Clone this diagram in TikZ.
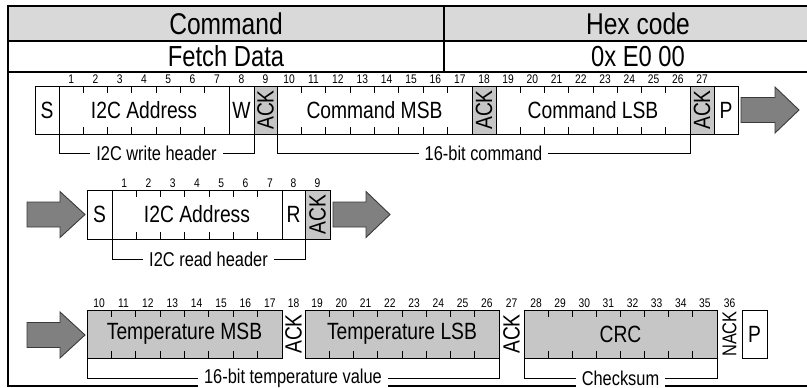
\documentclass[tikz,border=0pt]{standalone}
\usepackage{fontspec}
\setmainfont{Liberation Sans}[FakeStretch=0.82]
\definecolor{hdrgray}{HTML}{D9D9D9}
\definecolor{boxgray}{HTML}{C6C6C6}
\definecolor{arrowfill}{HTML}{808080}
\definecolor{arrowline}{HTML}{3A3A3A}
\newcommand{\cellat}[7]{%
  \pgfmathsetmacro\cellX{(#3+#4)/2}%
  \pgfmathsetmacro\cellY{(#5+#6)/2}%
  \pgfmathsetmacro\cellW{#4-#3}%
  \pgfmathsetmacro\cellH{#6-#5}%
  \node[#1, minimum width=\cellW pt, minimum height=\cellH pt] (#2) at (\cellX,\cellY) {#7};%
}
\newcommand{\bitmarks}[7]{% x1, x2, ytop, ybot, n, startnum, prefix
  \pgfmathsetmacro\bitW{(#2-#1)/#5}%
  \pgfmathtruncatemacro\bitLast{#5-1}%
  \foreach \k in {1,...,\bitLast}{%
    \draw[tickline] (#1+\k*\bitW, #3) -- ++(0,7);
    \draw[tickline] (#1+\k*\bitW, #4) -- ++(0,-7);
  }%
  \foreach \k in {0,...,\bitLast}{%
    \pgfmathtruncatemacro\bitNum{#6+\k}%
    \node[numlbl] (#7\bitNum) at (#1+\k*\bitW+0.5*\bitW, #3-7) {\bitNum};
  }%
}
\newcommand{\bigarrow}[5]{% name, x0, xbase, xtip, ycenter
  \draw[bigarr] (#2,#5-12.5) -- (#3,#5-12.5) -- (#3,#5-23) -- (#4,#5)
    -- (#3,#5+23) -- (#3,#5+12.5) -- (#2,#5+12.5) -- cycle;
  \coordinate (#1) at (#4,#5);
}
\tikzset{
  basecell/.style={inner sep=0pt, outer sep=0pt, line width=0.9pt,
    font=\fontsize{23.5}{23.5}\selectfont},
  wcell/.style={basecell, draw=black, fill=white},
  gcell/.style={basecell, draw=black, fill=boxgray},
  ocell/.style={basecell},
  nackcell/.style={basecell, font=\fontsize{20}{20}\selectfont},
  hdr/.style={inner sep=0pt, outer sep=0pt, draw=black, line width=2pt,
    fill=hdrgray, font=\fontsize{30}{30}\selectfont},
  rowc/.style={inner sep=0pt, outer sep=0pt, draw=black, line width=2pt,
    fill=white, font=\fontsize{29}{29}\selectfont},
  frame/.style={line width=2pt, draw=black},
  tickline/.style={line width=0.9pt, draw=black},
  numlbl/.style={inner sep=0pt, font=\fontsize{12.5}{12.5}\selectfont},
  brk/.style={line width=0.9pt, draw=black},
  lbl/.style={fill=white, inner xsep=6pt, inner ysep=2pt, font=\fontsize{20}{20}\selectfont},
  bigarr/.style={fill=arrowfill, draw=arrowline, line width=0.9pt, line join=miter},
}
\begin{document}
\begin{tikzpicture}[x=1pt, y=-1pt]
\useasboundingbox (0,0) rectangle (807,388);
\clip (0,0) rectangle (807,388);
\fill[white] (0,0) rectangle (807,388);

% table
\cellat{hdr}{hcmd}{8}{444}{5.7}{41}{Command}
\cellat{hdr}{hhex}{444}{832}{5.7}{41}{Hex code}
\cellat{rowc}{rcmd}{8}{444}{41}{72}{Fetch Data}
\cellat{rowc}{rhex}{444}{832}{41}{72}{0x E0 00}
\draw[frame] (rcmd.south west) -- (8,386) -- (836,386);

% ---- row 1: write header + command
\cellat{wcell}{s1}{35}{59}{86}{134}{S}
\cellat{wcell}{addr1}{59}{229}{86}{134}{I2C Address}
\cellat{wcell}{w1}{229}{254}{86}{134}{W}
\cellat{gcell}{ack1}{254}{277}{86}{134}{\rotatebox{90}{ACK}}
\cellat{wcell}{cmsb}{277}{472}{86}{134}{Command MSB}
\cellat{gcell}{ack2}{472}{496}{86}{134}{\rotatebox{90}{ACK}}
\cellat{wcell}{clsb}{496}{690}{86}{134}{Command LSB}
\cellat{gcell}{ack3}{690}{714}{86}{134}{\rotatebox{90}{ACK}}
\cellat{wcell}{p1}{714}{738}{86}{134}{P}
\bitmarks{59}{229}{86}{134}{7}{1}{ra}
\node[numlbl] (ra8) at ([yshift=7pt]w1.north) {8};
\node[numlbl] (ra9) at ([yshift=7pt]ack1.north) {9};
\bitmarks{277}{472}{86}{134}{8}{10}{ra}
\node[numlbl] (ra18) at ([yshift=7pt]ack2.north) {18};
\bitmarks{496}{690}{86}{134}{8}{19}{ra}
\node[numlbl] (ra27) at ([yshift=7pt]ack3.north) {27};
\bigarrow{arr1}{741}{775}{799}{110}
\draw[brk] (addr1.south west) -- ++(0,19) -| node[lbl, pos=0.25] (l1) {I2C write header} (w1.south east);
\draw[brk] (cmsb.south west) -- ++(0,19) -| node[lbl, pos=0.25] (l2) {16-bit command} (clsb.south east);

% ---- row 2: read header
\bigarrow{arr2}{27}{60}{85}{214.5}
\cellat{wcell}{s2}{87}{112}{190}{239}{S}
\cellat{wcell}{addr2}{112}{282}{190}{239}{I2C Address}
\cellat{wcell}{r2}{282}{305}{190}{239}{R}
\cellat{gcell}{ack4}{305}{330}{190}{239}{\rotatebox{90}{ACK}}
\bitmarks{112}{282}{190}{239}{7}{1}{rb}
\node[numlbl] (rb8) at ([yshift=7pt]r2.north) {8};
\node[numlbl] (rb9) at ([yshift=7pt]ack4.north) {9};
\bigarrow{arr3}{333}{366}{390}{214.5}
\draw[brk] (addr2.south west) -- ++(0,20) -| node[lbl, pos=0.25] (l3) {I2C read header} (r2.south east);

% ---- row 3: data
\bigarrow{arr4}{27}{60}{85}{335}
\cellat{gcell}{tmsb}{87}{282}{310}{358}{Temperature MSB}
\cellat{ocell}{ack5}{282}{305}{310}{358}{\rotatebox{90}{ACK}}
\cellat{gcell}{tlsb}{305}{499}{310}{358}{Temperature LSB}
\cellat{ocell}{ack6}{499}{524}{310}{358}{\rotatebox{90}{ACK}}
\cellat{gcell}{crc}{524}{717}{310}{358}{CRC}
\cellat{nackcell}{nack}{717}{742}{310}{358}{\rotatebox{90}{NACK}}
\cellat{wcell}{p3}{742}{767}{310}{358}{P}
\bitmarks{87}{282}{310}{358}{8}{10}{rc}
\node[numlbl] (rc18) at ([yshift=7pt]ack5.north) {18};
\bitmarks{305}{499}{310}{358}{8}{19}{rc}
\node[numlbl] (rc27) at ([yshift=7pt]ack6.north) {27};
\bitmarks{524}{717}{310}{358}{8}{28}{rc}
\node[numlbl] (rc36) at ([yshift=7pt]nack.north) {36};
\draw[brk] (tmsb.south west) -- ++(0,20) -| node[lbl, pos=0.25] (l4) {16-bit temperature value} (tlsb.south east);
\draw[brk] (crc.south west) -- ++(0,20) -| node[lbl, pos=0.25] (l5) {Checksum} (crc.south east);
\end{tikzpicture}
\end{document}
